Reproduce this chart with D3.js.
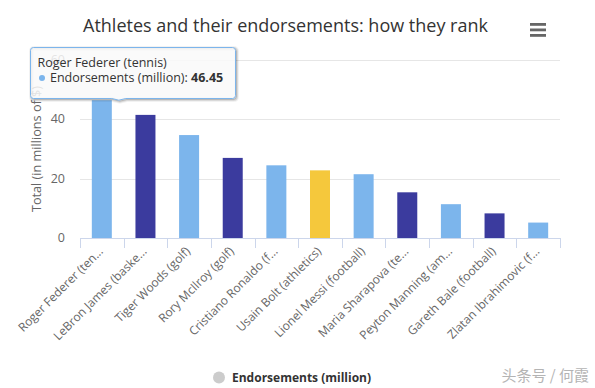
<!DOCTYPE html>
<html>
<head>
<meta charset="utf-8">
<script src="https://cdn.jsdelivr.net/npm/d3@7"></script>
<style>
  html, body { margin: 0; padding: 0; background: #fff; }
  svg { display: block; font-family: "Open Sans", "Noto Sans", sans-serif; }
</style>
</head>
<body>
<svg class="myChart" width="595" height="388"></svg>
<script>
// chart data
const athletes = ["Roger Federer (tennis)", "LeBron James (basketball)", "Tiger Woods (golf)",
  "Rory McIlroy (golf)", "Cristiano Ronaldo (football)", "Usain Bolt (athletics)",
  "Lionel Messi (football)", "Maria Sharapova (tennis)", "Peyton Manning (american football)",
  "Gareth Bale (football)", "Zlatan Ibrahimovic (football)"];
const tickLabels = ["Roger Federer (ten...", "LeBron James (baske...", "Tiger Woods (golf)",
  "Rory McIlroy (golf)", "Cristiano Ronaldo (f...", "Usain Bolt (athletics)",
  "Lionel Messi (football)", "Maria Sharapova (te...", "Peyton Manning (am...",
  "Gareth Bale (football)", "Zlatan Ibrahimovic (f..."];
const endorsements = [46.45, 41.5, 34.7, 27.0, 24.5, 22.8, 21.5, 15.4, 11.4, 8.3, 5.2];
const barColors = ["#7cb5ec", "#3b3b9e", "#7cb5ec", "#3b3b9e", "#7cb5ec", "#f5c83c",
  "#7cb5ec", "#3b3b9e", "#7cb5ec", "#3b3b9e", "#7cb5ec"];
const yTicks = [0, 20, 40, 60];
const seriesName = "Endorsements (million)";

const svg = d3.select('svg.myChart');
const plot = {left: 80, right: 560, top: 60, bottom: 238};

const data = athletes.map((a, i) => ({name: a, label: tickLabels[i], value: endorsements[i], color: barColors[i]}));

const xScale = d3.scaleBand()
  .domain(athletes)
  .range([plot.left, plot.right])
  .paddingInner(0.5417)
  .paddingOuter(0.27085);

const yScale = d3.scaleLinear()
  .domain([0, 60])
  .range([plot.bottom, plot.top]);

// title
svg.append('text')
  .attr('x', 285.5).attr('y', 32)
  .attr('text-anchor', 'middle')
  .attr('font-size', '18px')
  .attr('fill', '#333')
  .text('Athletes and their endorsements: how they rank');

// menu button
svg.selectAll('.menu').data([0, 1, 2]).enter().append('rect')
  .attr('class', 'menu')
  .attr('x', 530).attr('y', d => 23 + d * 5.5)
  .attr('width', 16).attr('height', 2.8)
  .attr('fill', '#666');

// grid lines
svg.selectAll('.grid').data(yTicks.filter(t => t > 0)).enter().append('line')
  .attr('class', 'grid')
  .attr('x1', plot.left).attr('x2', plot.right)
  .attr('y1', d => Math.round(yScale(d)) + 0.5)
  .attr('y2', d => Math.round(yScale(d)) + 0.5)
  .attr('stroke', '#e6e6e6');

// y tick labels
svg.selectAll('.ylab').data(yTicks).enter().append('text')
  .attr('class', 'ylab')
  .attr('x', 65).attr('y', d => yScale(d) + 4)
  .attr('text-anchor', 'end')
  .attr('font-size', '12.5px')
  .attr('fill', '#666')
  .text(d => d);

// y axis title
svg.append('text')
  .attr('transform', `translate(41, ${(plot.top + plot.bottom) / 2}) rotate(-90)`)
  .attr('text-anchor', 'middle')
  .attr('font-size', '12.7px')
  .attr('fill', '#666')
  .text('Total (in millions of $)');

// bars
svg.selectAll('.bar').data(data).enter().append('rect')
  .attr('class', 'bar')
  .attr('x', d => xScale(d.name))
  .attr('y', d => yScale(d.value))
  .attr('width', xScale.bandwidth())
  .attr('height', d => yScale(0) - yScale(d.value))
  .attr('fill', d => d.color);

// x axis
const step = xScale.step();
svg.append('line')
  .attr('x1', plot.left).attr('x2', plot.right)
  .attr('y1', plot.bottom + 0.5).attr('y2', plot.bottom + 0.5)
  .attr('stroke', '#ccd6eb');
svg.selectAll('.xtick').data(d3.range(athletes.length + 1)).enter().append('line')
  .attr('class', 'xtick')
  .attr('x1', i => Math.round(plot.left + i * step) + 0.5)
  .attr('x2', i => Math.round(plot.left + i * step) + 0.5)
  .attr('y1', plot.bottom).attr('y2', plot.bottom + 10)
  .attr('stroke', '#ccd6eb');

svg.selectAll('.xlab').data(data).enter().append('text')
  .attr('class', 'xlab')
  .attr('transform', d => `translate(${xScale(d.name) + xScale.bandwidth() / 2 + 2}, 252) rotate(-45)`)
  .attr('text-anchor', 'end')
  .attr('font-size', '12px')
  .attr('fill', '#666')
  .text(d => d.label);

// legend
svg.append('circle')
  .attr('cx', 219).attr('cy', 377.5).attr('r', 6)
  .attr('fill', '#cccccc');
svg.append('text')
  .attr('x', 232).attr('y', 382)
  .attr('font-size', '12px')
  .attr('font-weight', 'bold')
  .attr('fill', '#333')
  .text(seriesName);

// watermark
svg.append('text')
  .attr('x', 589).attr('y', 381)
  .attr('text-anchor', 'end')
  .attr('font-family', '"Noto Sans CJK SC", sans-serif')
  .attr('font-size', '15px')
  .attr('fill', '#b4b4b4')
  .text('头条号 / 何霞');

// tooltip on first point
const tip = data[0];
const ax = xScale(tip.name) + xScale.bandwidth() / 2 + 17;
const ay = yScale(tip.value);
const bx = 30.5, by = 47.5, bw = 205, bh = 51, r = 3;
const tipPath = `M ${bx + r} ${by} L ${bx + bw - r} ${by} Q ${bx + bw} ${by} ${bx + bw} ${by + r}
  L ${bx + bw} ${by + bh - r} Q ${bx + bw} ${by + bh} ${bx + bw - r} ${by + bh}
  L ${ax + 7} ${by + bh} L ${ax} ${ay} L ${ax - 7} ${by + bh}
  L ${bx + r} ${by + bh} Q ${bx} ${by + bh} ${bx} ${by + bh - r}
  L ${bx} ${by + r} Q ${bx} ${by} ${bx + r} ${by} Z`;
const tg = svg.append('g');
[5, 3, 1].forEach((w, i) => {
  tg.append('path')
    .attr('d', tipPath)
    .attr('transform', 'translate(1,1)')
    .attr('fill', 'none')
    .attr('stroke', '#000')
    .attr('stroke-opacity', 0.05 * (i + 1))
    .attr('stroke-width', w);
});
tg.append('path')
  .attr('d', tipPath)
  .attr('fill', 'rgba(249,249,249,0.85)')
  .attr('stroke', tip.color)
  .attr('stroke-width', 1);
tg.append('text')
  .attr('x', 37.5).attr('y', 67)
  .attr('font-size', '12.5px')
  .attr('fill', '#333')
  .text(tip.name);
tg.append('circle')
  .attr('cx', 42).attr('cy', 78).attr('r', 3)
  .attr('fill', tip.color);
const line2 = tg.append('text')
  .attr('x', 50).attr('y', 82)
  .attr('font-size', '12.5px')
  .attr('fill', '#333');
line2.append('tspan').text(seriesName + ': ');
line2.append('tspan').attr('font-weight', 'bold').text(tip.value);
</script>
</body>
</html>
